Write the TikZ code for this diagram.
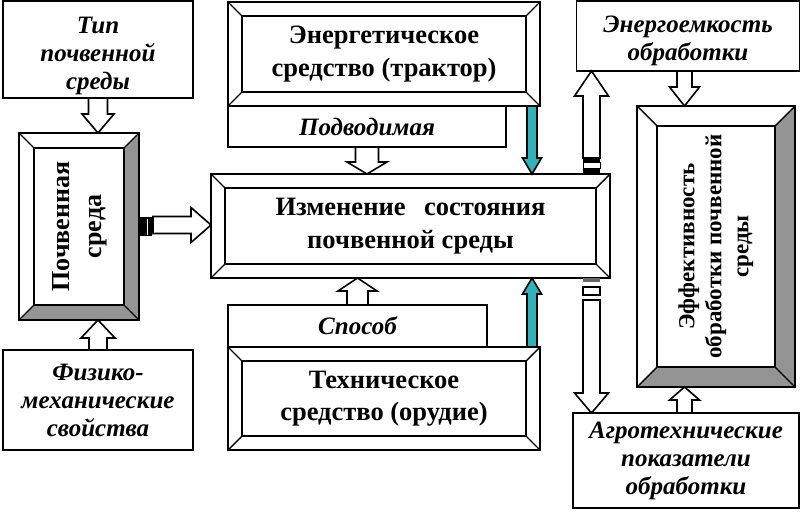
\documentclass[tikz,border=0pt]{standalone}
\usepackage{fontspec}
\setmainfont{Liberation Serif}
\usepackage{graphicx}
\usetikzlibrary{calc}
\definecolor{arrowteal}{RGB}{45,180,188}
\def\vtext#1{\rotatebox{90}{\begin{tabular}{@{}c@{}}#1\end{tabular}}}
\def\bevel[#1](#2)(#3){%
	\fill[#1] (#2.north east) -- (#2.south east) -- ($(#2.south east)+(-#3pt,#3pt)$) -- ($(#2.north east)+(-#3pt,-#3pt)$) -- cycle;
	\fill[#1] (#2.south west) -- (#2.south east) -- ($(#2.south east)+(-#3pt,#3pt)$) -- ($(#2.south west)+(#3pt,#3pt)$) -- cycle;
	\draw[line width=1.4pt] (#2.north west) -- ++(#3pt,-#3pt) (#2.north east) -- ++(-#3pt,-#3pt)
		(#2.south west) -- ++(#3pt,#3pt) (#2.south east) -- ++(-#3pt,#3pt);
	\draw[line width=2pt] ($(#2.north west)+(#3pt,-#3pt)$) rectangle ($(#2.south east)+(-#3pt,#3pt)$);
	\draw[line width=2.8pt] (#2.north west) rectangle (#2.south east);}
\def\fatarrow[#1](#2)(#3)(#4:#5:#6){%
	\coordinate (fa) at ($(#3)!#6pt!(#2)$);
	\draw[line width=1.6pt, fill=#1, line join=miter] ($(#2)!#4pt!90:(#3)$) -- ($(fa)!#4pt!90:(#3)$) -- ($(fa)!#5pt!90:(#3)$) -- (#3)
		-- ($(fa)!#5pt!-90:(#3)$) -- ($(fa)!#4pt!-90:(#3)$) -- ($(#2)!#4pt!-90:(#3)$) -- cycle;}
\begin{document}
\begin{tikzpicture}[x=1pt, y=-1pt,
	sidebox/.style={draw, line width=1.8pt, align=center, inner sep=0pt, outer sep=0pt,
		font=\fontsize{25}{28}\selectfont\bfseries\itshape},
	bevelbox/.style={align=center, inner sep=0pt, outer sep=0pt,
		font=\fontsize{26.5}{32.5}\selectfont\bfseries}]
			\useasboundingbox (0,0) rectangle (802,511);
			
			% left column
			\node[sidebox, text height=86pt, minimum width=190pt, minimum height=97pt] (tip) at (98,49.5) {Тип\\почвенной\\среды};
			\node[bevelbox, font=\fontsize{26}{32}\selectfont\bfseries, minimum width=120pt, minimum height=187pt] (pochva) at (79,226.5) {\vtext{Почвенная\\среда}};
			\bevel[black!42](pochva)(15);
			\node[sidebox, minimum width=190pt, minimum height=100pt] (fiz) at (98,400) {Физико-\\механические\\свойства};
			
			% middle column
			\node[sidebox, minimum width=278pt, minimum height=41pt] (podv) at (367,126.5) {Подводимая};
			\node[bevelbox, minimum width=312pt, minimum height=104pt] (energo) at (384,54) {Энергетическое\\средство (трактор)};
			\bevel[white](energo)(14);
			\node[bevelbox, minimum width=399pt, minimum height=104pt] (izm) at (410.5,226) {Изменение\hspace{0.45em} состояния\\почвенной среды};
			\bevel[white](izm)(14);
			\node[sidebox, minimum width=259pt, minimum height=42pt] (sposob) at (357.5,326) {Способ};
			\node[bevelbox, minimum width=312pt, minimum height=103pt] (tekh) at (384,398.5) {Техническое\\средство (орудие)};
			\bevel[white](tekh)(14);
			
			% right column
			\node[sidebox, text height=54pt, minimum width=223pt, minimum height=70pt] (energoemk) at (688,36) {Энергоемкость\\обработки};
			\node[bevelbox, font=\fontsize{23}{27}\selectfont\bfseries, minimum width=158pt, minimum height=281pt] (effekt) at (716,246.5) {\vtext{Эффективность\\обработки почвенной\\среды}};
			\bevel[black!42](effekt)(20);
			\node[sidebox, minimum width=226pt, minimum height=95pt] (agro) at (686,460.5) {Агротехнические\\показатели\\обработки};
			
			% joints
			\fill ($(pochva.east)+(0,9.5pt)$) rectangle ($(pochva.east)+(13pt,-9.5pt)$);
			\draw[white, line width=1pt] ($(pochva.east)+(8pt,8pt)$) -- ++(0,-16pt);
			\coordinate (jt) at ($(izm.north east)+(-18.5pt,0)$);
			\fill ($(jt)+(-8.5pt,0)$) rectangle ($(jt)+(8.5pt,6pt)$);
			\draw[line width=1pt] ($(jt)+(-8.5pt,6pt)$) rectangle ($(jt)+(8.5pt,12pt)$);
			\fill ($(jt)+(-8.5pt,12pt)$) rectangle ($(jt)+(8.5pt,16pt)$);
			\coordinate (jb) at ($(izm.south east)+(-18.5pt,0)$);
			\fill[black!60] ($(jb)+(-8.5pt,0)$) rectangle ($(jb)+(8.5pt,-4pt)$);
			\draw[line width=1.2pt] ($(jb)+(-8.5pt,-9pt)$) rectangle ($(jb)+(8.5pt,-17pt)$);
			
			% arrows
			\coordinate (a1) at (tip.south); \coordinate (a2) at (a1 |- pochva.north);
			\fatarrow[white](a1)(a2)(9.5:16:19);
			\coordinate (a3) at (fiz.north); \coordinate (a4) at (a3 |- pochva.south);
			\fatarrow[white](a3)(a4)(9:17:18);
			\coordinate (a5) at ($(pochva.east)+(14pt,1.5pt)$); \coordinate (a6) at (a5 -| izm.west);
			\fatarrow[white](a5)(a6)(8.5:17.5:20);
			\coordinate (a7) at (podv.south); \coordinate (a8) at (a7 |- izm.north);
			\fatarrow[white](a7)(a8)(11.5:20:12);
			\coordinate (a9) at (sposob.north); \coordinate (a10) at (a9 |- izm.south);
			\fatarrow[white](a9)(a10)(10.5:19.5:13);
			\coordinate (t1) at ($(energo.south east)+(-8pt,0)$); \coordinate (t2) at (t1 |- izm.north);
			\fatarrow[arrowteal](t1)(t2)(5:9.5:16);
			\coordinate (t3) at ($(tekh.north east)+(-8pt,0)$); \coordinate (t4) at (t3 |- izm.south);
			\fatarrow[arrowteal](t3)(t4)(5:9.5:16);
			\coordinate (b1) at ($(jt)+(0,16pt)$); \coordinate (b2) at (b1 |- energoemk.south);
			\fatarrow[white](b1)(b2)(8.5:17:25);
			\coordinate (b3) at ($(jb)+(0,-22pt)$); \coordinate (b4) at (b3 |- agro.north);
			\fatarrow[white](b3)(b4)(8.5:17:20);
			\coordinate (e1) at ($(energoemk.south)+(-3.5pt,0)$); \coordinate (e2) at (e1 |- effekt.north);
			\fatarrow[white](e1)(e2)(7.5:15:19);
			\coordinate (e3) at ($(agro.north)+(-1.5pt,0)$); \coordinate (e4) at (e3 |- effekt.south);
			\fatarrow[white](e3)(e4)(7.5:15:13);
		\end{tikzpicture}
\end{document}
